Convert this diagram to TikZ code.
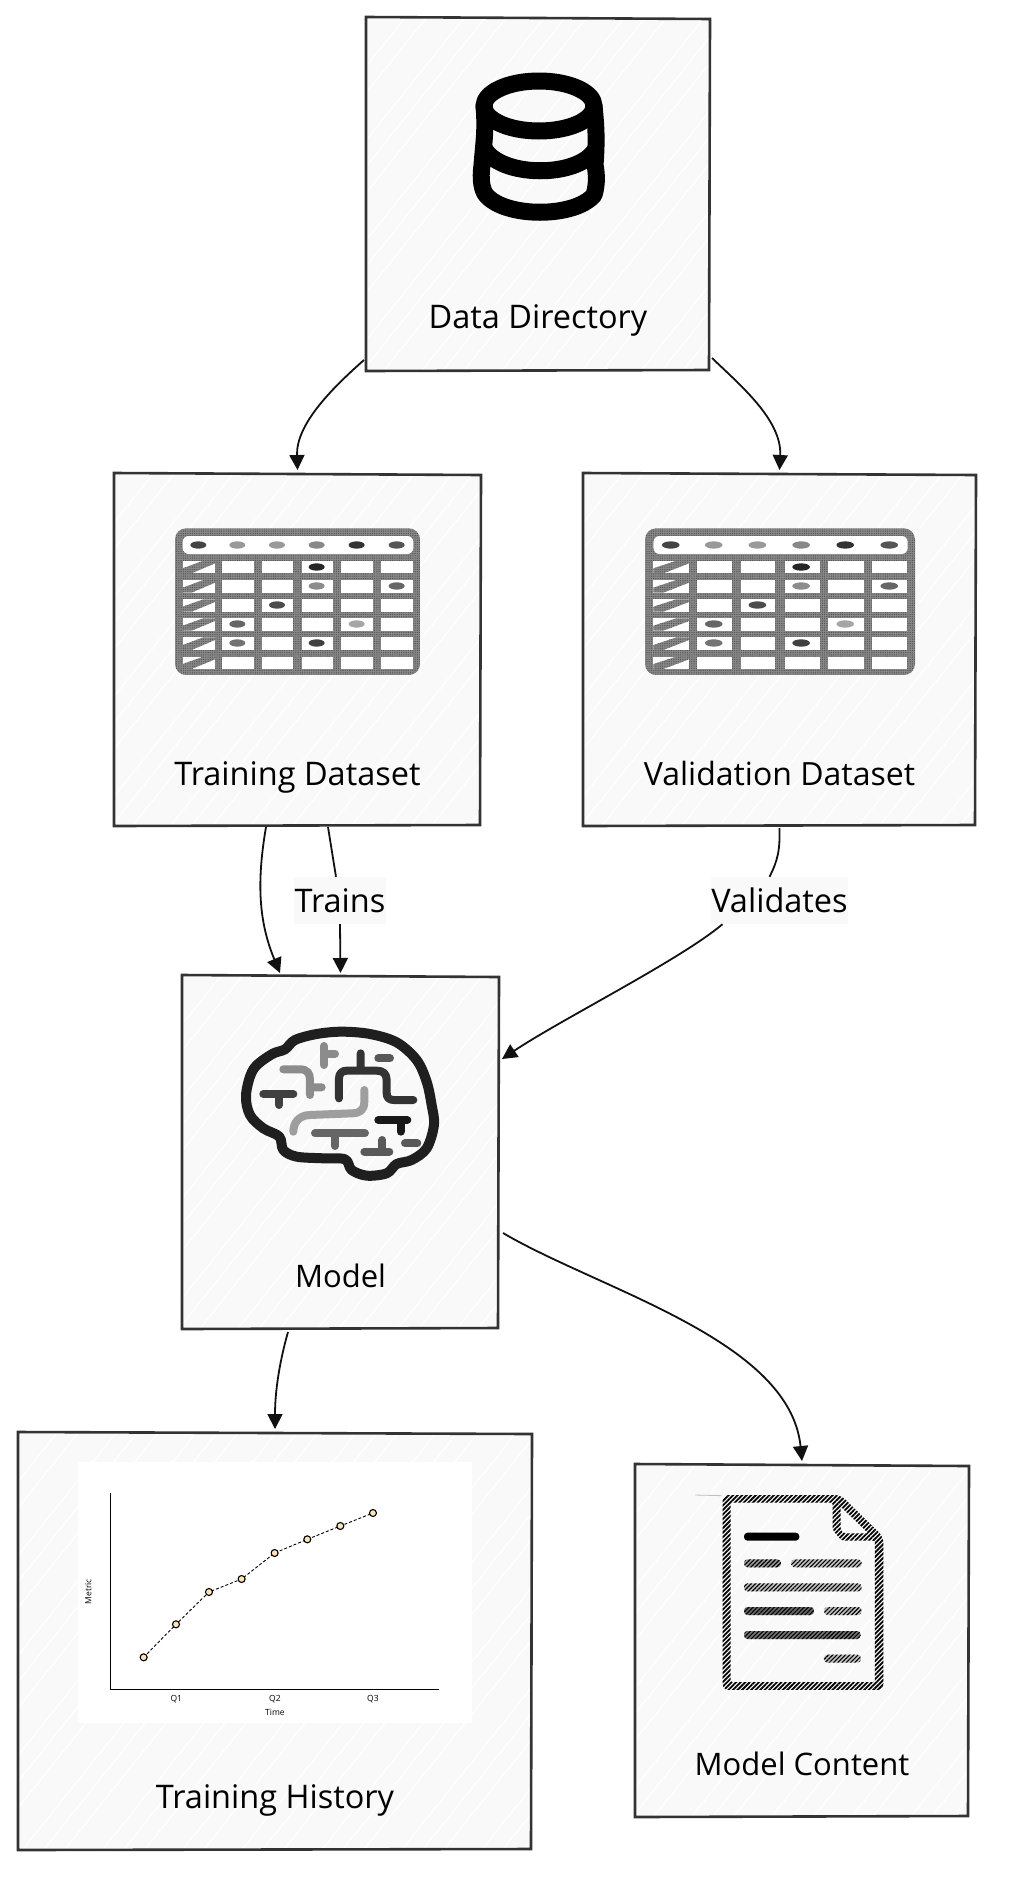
\documentclass[tikz,border=0pt]{standalone}
\usepackage{fontspec}
\setmainfont{Open Sans}
\usetikzlibrary{arrows.meta,patterns.meta,calc}
\definecolor{boxfill}{HTML}{F9F9F9}
\definecolor{boxline}{HTML}{333333}
\definecolor{ink}{HTML}{111111}
\definecolor{tablegray}{HTML}{8A8A8A}
\tikzset{
  boxnode/.style={fill=boxfill,draw=none,inner sep=0pt,outer sep=0pt,minimum width=#1},
  boxedge/.style={draw=boxline,line width=2.6pt,line cap=round},
  hatchline/.style={white,line width=1.2pt},
  boxlabel/.style={inner sep=0pt,text=black,anchor=base,font=\fontsize{32.5}{38}\selectfont},
  edgelabel/.style={fill=boxfill,inner sep=0pt,text=black,font=\fontsize{32.5}{38}\selectfont,minimum height=47pt},
  conn/.style={draw=ink,line width=1.8pt,-{Triangle[length=15pt,width=15pt]}},
  connplain/.style={draw=ink,line width=1.8pt},
  brainline/.style={line width=8pt,line cap=round,line join=round},
  chartlabel/.style={inner sep=0pt,text=black,font=\fontsize{8.5}{10}\selectfont},
  chartdot/.style={circle,draw=black,fill=yellow!20!orange!25,line width=1.1pt,inner sep=0pt,minimum size=7pt},
  hatchfill/.style={pattern={Lines[angle=45,distance=3.2pt,line width=1.8pt]},pattern color=black},
  hatchthin/.style={pattern={Lines[angle=45,distance=3pt,line width=1.1pt]},pattern color=black},
  speckle/.style={pattern={Dots[distance=1.8pt,radius=0.45pt]},pattern color=black!75},
}
% name, x0, y0, x1, y1, label, label baseline y
\newcommand{\skbox}[7]{%
  \pgfmathsetmacro{\skw}{#4-#2}\pgfmathsetmacro{\skh}{#5-#3}%
  \node[boxnode=\skw pt,minimum height=\skh pt] (#1) at ({(#2+#4)/2},{(#3+#5)/2}) {};
  \begin{scope}
    \clip (#1.south west) rectangle (#1.north east);
    \foreach \k in {0,1,...,40} {
      \pgfmathsetmacro{\off}{#2-\skh*0.8+\k*27+mod(\k*11,17)}
      \draw[hatchline] (\off,#5) -- ++({\skh*0.8},{-\skh});
    }
  \end{scope}
  \draw[boxedge] ([xshift=-1pt,yshift=1pt]#1.north west) -- ([xshift=1pt,yshift=-1pt]#1.north east)
     -- ([yshift=0pt]#1.south east) -- ([xshift=-1pt,yshift=-1pt]#1.south west) -- cycle;
  \node[boxlabel] (#1label) at ({(#2+#4)/2},#7) {#6};
}
% table icon; #1 x shift; #2 x unit; #3 dots
\newcommand{\dotat}[3]{\fill[#3] (#1,#2) ellipse (24 and 11);}
\newcommand{\tableicon}[3]{%
  \begin{scope}[shift={(#1,510)},x=#2,y=-0.3333pt]
    \fill[tablegray,rounded corners=11pt] (45,55) rectangle (780,495);
    \fill[speckle,rounded corners=11pt] (45,55) rectangle (780,495);
    \fill[white,rounded corners=6pt] (68,78) rectangle (760,132);
    \foreach \c/\cc in {115/444444,232/999999,351/999999,470/888888,590/333333,710/555555}
      {\definecolor{tmpc}{HTML}{\cc}\fill[tmpc] (\c,105) ellipse (24 and 11);}
    \foreach \ya/\yb in {152/190,210/248,268/305,325/362,382/420,440/477} {
      \foreach \xa/\xb in {187/282,305/400,425/520,543/640,662/758}
        \fill[white] (\xa,\ya) rectangle (\xb,\yb);
      \fill[white] (68,\ya) -- (165,\ya) -- (165,\yb) -- (68,\yb) -- cycle;
      \fill[tablegray] (68,\yb-15) -- (130,\ya) -- (165,\ya) -- (165,\ya+8) -- (95,\yb) -- (68,\yb) -- cycle;
      \fill[speckle] (68,\yb-15) -- (130,\ya) -- (165,\ya) -- (165,\ya+8) -- (95,\yb) -- (68,\yb) -- cycle;
    }
    #3
  \end{scope}
}
\newcommand{\tabledots}{\dotat{470}{171}{black!85}\dotat{470}{228}{black!45}\dotat{710}{228}{black!60}\dotat{351}{285}{black!70}\dotat{232}{342}{black!60}\dotat{590}{342}{black!35}\dotat{232}{399}{black!55}\dotat{470}{399}{black!75}}
\begin{document}
\begin{tikzpicture}[x=1pt,y=-1pt]
\useasboundingbox (0,0) rectangle (1010,1898);
\fill[white] (0,0) rectangle (1010,1898);

\skbox{data}{367}{18}{709}{370}{Data Directory}{328}
\skbox{training}{115}{474}{480}{825}{Training Dataset}{785}
\skbox{validation}{584}{474}{975}{825}{\fontsize{32}{38}\selectfont Validation Dataset}{785}
\skbox{model}{183}{976}{498}{1328}{\fontsize{31}{38}\selectfont Model}{1287}
\skbox{history}{19}{1433}{531}{1849}{Training History}{1808}
\skbox{content}{636}{1465}{968}{1816}{\fontsize{31}{38}\selectfont Model Content}{1775}

% database icon
\begin{scope}[line width=17pt,draw=black,line join=round,line cap=round]
  \draw (539,106) ellipse (55 and 25);
  \draw (484,106) .. controls (486,130) and (484,140) .. (482,165) .. controls (480,180) and (482,190) .. (486,195) .. controls (505,218) and (575,218) .. (594,195) .. controls (597,185) and (597,175) .. (595,165) .. controls (597,140) and (596,125) .. (594,106);
  \draw (484,148) .. controls (500,178) and (578,178) .. (595,150);
\end{scope}

% table icons
\tableicon{160}{0.3333pt}{\tabledots}
\tableicon{628.5}{0.3673pt}{\tabledots}

% brain icon
\begin{scope}[shift={(230,1010)},x=0.3333pt,y=-0.3333pt]
  \draw[line width=10pt,draw=black!88,line join=round] plot[smooth cycle,tension=0.55] coordinates {
    (48,255) (70,178) (125,133) (165,118) (195,90) (260,72) (335,65) (420,72) (500,97) (560,150) (590,215) (605,285) (612,345) (590,415) (545,450) (500,462) (470,490) (410,497) (365,480) (345,448) (280,445) (200,440) (160,420) (148,380) (100,355) (60,315)};
  \begin{scope}[brainline]
    \draw[black!75] (100,252) -- (190,252) (147,252) -- (147,285);
    \draw[black!45] (160,178) -- (210,178) .. controls (232,178) and (240,190) .. (240,210) -- (240,255) (240,232) -- (275,232);
    \draw[black!45] (282,108) -- (282,165) (282,132) -- (315,132);
    \draw[black!80] (327,265) -- (327,205) .. controls (327,190) and (337,182) .. (350,182) -- (440,182) .. controls (460,182) and (470,192) .. (470,210) -- (470,250) .. controls (470,265) and (480,270) .. (492,270) -- (550,270) (392,130) -- (392,180);
    \draw[black!65] (445,145) -- (480,145);
    \draw[black!38] (403,240) -- (403,275) .. controls (403,300) and (390,310) .. (365,310) -- (240,315) .. controls (205,316) and (190,340) .. (190,365);
    \draw[black!60] (255,370) -- (405,370) (315,370) -- (315,408);
    \draw[black!90] (445,330) -- (532,330) (512,330) -- (512,365);
    \draw[black!65] (525,400) -- (562,400);
    \draw[black!65] (403,425) -- (478,425) (457,425) -- (457,390);
  \end{scope}
\end{scope}

% chart
\begin{scope}[shift={(60,1450)},x=0.3333pt,y=-0.3333pt]
  \fill[white] (55,35) rectangle (1235,820);
  \draw[black,line width=1pt] (153,130) -- (153,720) -- (1138,720);
  \draw[black,line width=0.9pt,dash pattern=on 3pt off 2pt] (251,622) -- (348,523) -- (447,426) -- (545,387) -- (644,309) -- (742,268) -- (841,228) -- (939,189);
  \foreach \n/\px/\py in {a/251/622,b/348/523,c/447/426,d/545/387,e/644/309,f/742/268,g/841/228,h/939/189}
    \node[chartdot] (pt\n) at (\px,\py) {};
  \node[chartlabel] (q1) at (349,748) {Q1};
  \node[chartlabel] (q2) at (645,748) {Q2};
  \node[chartlabel] (q3) at (939,748) {Q3};
  \node[chartlabel] (timelab) at (645,788) {Time};
  \node[chartlabel,rotate=90] (metriclab) at (85,425) {Metric};
\end{scope}

% document icon
\begin{scope}[shift={(680,1480)},x=0.3333pt,y=-0.3333pt]
  \draw[black!25,line width=0.8pt] (45,45) -- (125,47);
  \fill[hatchfill,even odd rule]
    [rounded corners=6pt] (128,45) -- (482,45) -- (610,170) -- (610,630) -- (128,630) -- cycle
    [rounded corners=2pt] (152,68) -- (458,68) -- (458,150) -- (485,182) -- (585,182) -- (585,606) -- (152,606) -- cycle
    (482,80) -- (565,160) -- (490,160) -- (482,150) -- cycle;
  \fill[black,rounded corners=3.5pt] (192,158) rectangle (358,182);
  \fill[black!40,rounded corners=3.5pt] (192,238) rectangle (303,262);
  \fill[black!60,rounded corners=3.5pt] (192,381) rectangle (402,405);
  \fill[black!55,rounded corners=3.5pt] (192,453) rectangle (542,477);
  \foreach \xa/\xb/\yy in {333/545/250,192/545/322,432/545/393,432/543/536}
    \fill[black!25,rounded corners=3.5pt] (\xa,\yy-12) rectangle (\xb,\yy+12);
  \foreach \xa/\xb/\yy in {192/303/250,333/545/250,192/545/322,192/402/393,432/545/393,192/542/465,432/543/536}
    \fill[hatchthin,rounded corners=3.5pt] (\xa,\yy-12) rectangle (\xb,\yy+12);
\end{scope}

% edge labels
\node[edgelabel,minimum width=92pt] (trains) at (340,900.5) {\raisebox{-6pt}{Trains}};
\node[edgelabel,minimum width=135pt] (validates) at (779.5,900.5) {\raisebox{-6pt}{Validates}};

% connectors
\draw[conn] ([xshift=-3pt,yshift=10pt]data.south west) .. controls (330,390) and (296,425) .. ([yshift=4pt]training.north);
\draw[conn] ([xshift=3pt,yshift=12pt]data.south east) .. controls (740,385) and (782,420) .. ([yshift=4pt]validation.north);
\draw[conn] ([xshift=-31.5pt,yshift=-2pt]training.south) .. controls (257,880) and (258,920) .. ([xshift=-60.5pt,yshift=3pt]model.north);
\draw[connplain] ([xshift=30.5pt,yshift=-2pt]training.south) -- ([xshift=-4pt]trains.north);
\draw[conn] (trains.south) -- ([yshift=3pt]model.north);
\draw[connplain] ([yshift=-3pt]validation.south) .. controls (780,850) and (778,860) .. ([xshift=-10pt]validates.north);
\draw[conn] ([xshift=-57pt]validates.south) .. controls (680,960) and (560,1020) .. ([xshift=4pt,yshift=-83pt]model.north east);
\draw[conn] ([xshift=-52.5pt,yshift=-4pt]model.south) .. controls (280,1360) and (275,1390) .. ([yshift=4pt]history.north);
\draw[conn] ([xshift=5pt,yshift=95pt]model.south east) .. controls (600,1290) and (790,1340) .. ([yshift=4pt]content.north);
\end{tikzpicture}
\end{document}
